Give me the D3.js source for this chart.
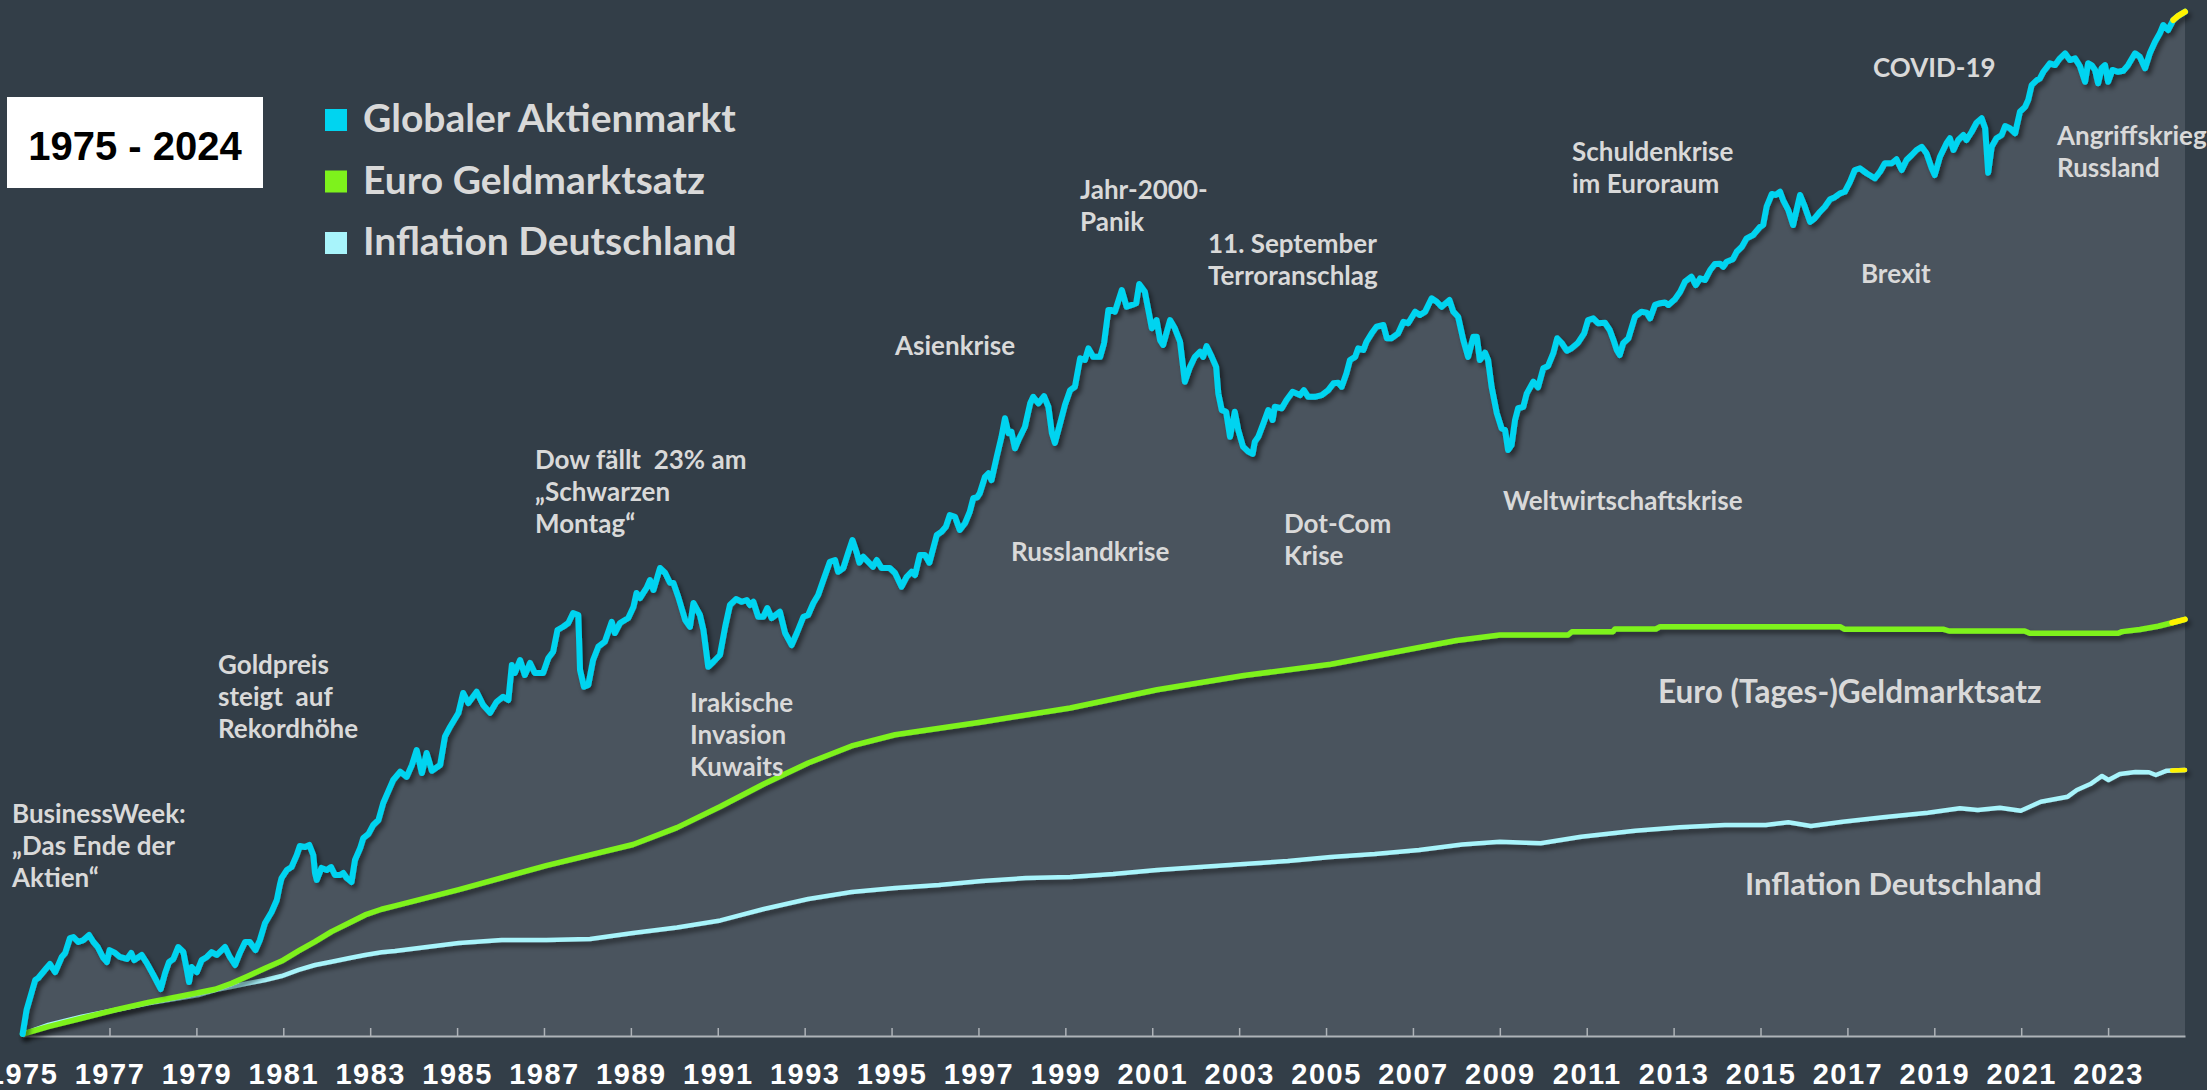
<!DOCTYPE html>
<html>
<head>
<meta charset="utf-8">
<script src="https://cdn.jsdelivr.net/npm/d3@7"></script>
<style>
  html, body { margin: 0; padding: 0; background: #333e48; overflow: hidden; }
  svg { display: block; }
  .note { font-family: Lato, "Noto Sans", sans-serif; font-weight: 700; fill: #d9d9d9; font-size: 26px; white-space: pre; }
  .legend-text { font-family: Lato, "Noto Sans", sans-serif; font-weight: 700; fill: #d9d9d9; font-size: 39px; }
  .tick text { font-family: "Liberation Sans", Arial, sans-serif; font-weight: 700; fill: #fff; font-size: 29px; letter-spacing: 1.5px; }
</style>
</head>
<body>
<svg width="2207" height="1090"></svg>
<script>
// Wert von 1 (1975 = 1), [Jahr, Wert]
const aktien = [[1975.00,1.00],[1975.09,1.10],[1975.29,1.241],[1975.36,1.251],[1975.55,1.302],[1975.63,1.323],[1975.75,1.281],[1975.90,1.361],[1975.98,1.383],[1976.09,1.468],[1976.17,1.474],[1976.28,1.445],[1976.40,1.456],[1976.53,1.486],[1976.63,1.445],[1976.73,1.416],[1976.86,1.355],[1976.94,1.334],[1977.00,1.399],[1977.13,1.383],[1977.24,1.361],[1977.40,1.350],[1977.50,1.383],[1977.57,1.344],[1977.74,1.372],[1977.86,1.328],[1978.01,1.266],[1978.18,1.197],[1978.28,1.276],[1978.37,1.334],[1978.47,1.350],[1978.58,1.416],[1978.70,1.388],[1978.78,1.292],[1978.83,1.231],[1978.89,1.307],[1979.01,1.281],[1979.12,1.344],[1979.24,1.361],[1979.35,1.388],[1979.47,1.372],[1979.66,1.416],[1979.77,1.361],[1979.89,1.318],[1980.00,1.383],[1980.12,1.445],[1980.23,1.445],[1980.36,1.399],[1980.46,1.456],[1980.58,1.559],[1980.73,1.629],[1980.85,1.709],[1980.92,1.815],[1980.96,1.866],[1981.08,1.927],[1981.19,1.950],[1981.31,2.046],[1981.38,2.121],[1981.50,2.113],[1981.60,2.130],[1981.69,2.046],[1981.73,1.904],[1981.77,1.852],[1981.88,1.943],[1982.00,1.927],[1982.10,1.950],[1982.19,1.889],[1982.31,1.889],[1982.38,1.904],[1982.46,1.866],[1982.57,1.837],[1982.65,2.006],[1982.77,2.104],[1982.84,2.190],[1982.96,2.226],[1983.07,2.307],[1983.19,2.354],[1983.30,2.519],[1983.38,2.601],[1983.53,2.762],[1983.69,2.855],[1983.84,2.798],[1983.96,2.933],[1984.07,3.114],[1984.19,2.841],[1984.30,3.077],[1984.42,2.866],[1984.61,2.933],[1984.72,3.284],[1984.84,3.418],[1985.03,3.611],[1985.14,3.912],[1985.26,3.758],[1985.45,3.932],[1985.60,3.728],[1985.76,3.615],[1985.91,3.777],[1986.06,3.854],[1986.18,3.804],[1986.26,4.375],[1986.33,4.238],[1986.45,4.464],[1986.56,4.204],[1986.68,4.411],[1986.79,4.238],[1986.98,4.238],[1987.10,4.500],[1987.21,4.614],[1987.31,5.033],[1987.44,5.099],[1987.56,5.176],[1987.67,5.387],[1987.79,5.344],[1987.83,4.289],[1987.92,4.011],[1988.02,4.039],[1988.13,4.464],[1988.25,4.707],[1988.40,4.802],[1988.56,5.202],[1988.63,4.973],[1988.75,5.176],[1988.94,5.280],[1989.06,5.524],[1989.13,5.836],[1989.21,5.720],[1989.36,5.954],[1989.44,6.147],[1989.52,5.906],[1989.67,6.450],[1989.79,6.322],[1989.90,6.080],[1989.98,6.074],[1990.09,5.749],[1990.25,5.238],[1990.36,5.099],[1990.44,5.607],[1990.59,5.344],[1990.67,5.033],[1990.78,4.345],[1990.90,4.433],[1991.05,4.554],[1991.17,5.099],[1991.28,5.562],[1991.42,5.697],[1991.55,5.635],[1991.67,5.675],[1991.74,5.562],[1991.82,5.635],[1991.93,5.307],[1992.05,5.307],[1992.14,5.496],[1992.24,5.280],[1992.43,5.414],[1992.55,4.973],[1992.70,4.740],[1992.82,4.973],[1992.97,5.307],[1993.08,5.344],[1993.20,5.607],[1993.31,5.789],[1993.43,6.147],[1993.58,6.613],[1993.70,6.659],[1993.77,6.353],[1993.89,6.450],[1994.00,6.849],[1994.10,7.214],[1994.20,6.849],[1994.26,6.587],[1994.35,6.747],[1994.46,6.613],[1994.57,6.482],[1994.66,6.659],[1994.77,6.450],[1994.96,6.450],[1995.08,6.322],[1995.23,5.984],[1995.35,6.228],[1995.46,6.353],[1995.54,6.271],[1995.65,6.794],[1995.77,6.794],[1995.87,6.587],[1996.04,7.360],[1996.15,7.456],[1996.25,7.607],[1996.34,7.973],[1996.46,7.917],[1996.57,7.508],[1996.69,7.714],[1996.80,8.077],[1996.88,8.525],[1996.97,8.559],[1997.03,8.697],[1997.15,9.290],[1997.23,9.421],[1997.30,9.170],[1997.42,10.06],[1997.53,10.90],[1997.61,11.74],[1997.69,11.06],[1997.76,11.12],[1997.84,10.41],[1997.92,10.76],[1998.07,11.35],[1998.19,12.46],[1998.26,12.79],[1998.38,12.46],[1998.51,12.83],[1998.61,12.29],[1998.69,11.06],[1998.76,10.64],[1998.88,11.51],[1998.99,12.38],[1999.11,13.14],[1999.22,13.32],[1999.34,14.92],[1999.45,14.82],[1999.53,15.53],[1999.64,15.01],[1999.80,15.01],[1999.89,15.85],[1999.99,18.10],[2000.07,18.10],[2000.14,17.98],[2000.30,19.61],[2000.41,18.34],[2000.53,18.47],[2000.63,18.60],[2000.70,20.09],[2000.83,19.47],[2000.91,18.10],[2000.99,16.83],[2001.10,17.39],[2001.18,16.05],[2001.25,15.74],[2001.41,17.39],[2001.52,16.83],[2001.64,15.94],[2001.75,13.59],[2001.87,14.42],[2001.98,15.01],[2002.10,15.32],[2002.17,15.01],[2002.25,15.67],[2002.37,15.01],[2002.47,14.42],[2002.52,12.97],[2002.60,12.13],[2002.70,12.05],[2002.79,10.90],[2002.90,12.05],[2002.98,11.20],[2003.09,10.48],[2003.21,10.27],[2003.31,10.18],[2003.36,10.69],[2003.44,10.90],[2003.56,11.51],[2003.67,12.13],[2003.77,11.66],[2003.82,12.29],[2003.98,12.22],[2004.09,12.63],[2004.23,13.05],[2004.40,12.88],[2004.49,13.14],[2004.59,12.79],[2004.74,12.79],[2004.90,12.88],[2005.05,13.14],[2005.17,13.50],[2005.28,13.53],[2005.36,13.32],[2005.47,14.05],[2005.55,14.82],[2005.67,15.01],[2005.74,15.53],[2005.86,15.43],[2005.93,15.94],[2006.05,16.49],[2006.16,16.93],[2006.32,17.05],[2006.40,16.17],[2006.51,16.17],[2006.66,16.49],[2006.78,17.27],[2006.89,17.17],[2007.05,17.98],[2007.16,17.74],[2007.28,17.98],[2007.43,18.97],[2007.55,18.71],[2007.66,18.34],[2007.84,18.84],[2007.93,17.98],[2008.04,17.62],[2008.16,16.05],[2008.27,15.01],[2008.39,16.26],[2008.47,16.26],[2008.54,14.82],[2008.66,15.26],[2008.73,14.82],[2008.81,13.32],[2008.93,11.98],[2009.04,11.28],[2009.12,11.20],[2009.19,10.34],[2009.27,10.55],[2009.35,11.66],[2009.42,12.22],[2009.54,12.29],[2009.62,12.97],[2009.77,13.59],[2009.88,13.29],[2010.00,14.34],[2010.11,14.47],[2010.23,15.23],[2010.32,16.17],[2010.42,15.88],[2010.54,15.38],[2010.65,15.53],[2010.80,15.88],[2010.94,16.49],[2011.03,17.39],[2011.15,17.51],[2011.26,17.17],[2011.42,17.20],[2011.53,16.71],[2011.63,15.94],[2011.69,15.43],[2011.76,15.12],[2011.84,15.85],[2011.96,16.17],[2012.03,16.83],[2012.11,17.62],[2012.26,17.98],[2012.38,17.91],[2012.46,17.51],[2012.57,18.47],[2012.69,18.60],[2012.80,18.66],[2012.88,18.47],[2013.03,18.90],[2013.15,19.47],[2013.26,20.27],[2013.41,20.68],[2013.51,20.00],[2013.61,20.55],[2013.72,20.41],[2013.84,21.24],[2013.95,21.76],[2014.07,21.79],[2014.14,21.52],[2014.22,21.96],[2014.36,22.17],[2014.45,22.85],[2014.57,23.31],[2014.68,24.11],[2014.83,24.43],[2014.99,25.25],[2015.06,25.43],[2015.14,27.36],[2015.26,28.79],[2015.35,28.68],[2015.45,29.05],[2015.52,28.10],[2015.64,27.00],[2015.75,25.43],[2015.83,27.00],[2015.91,28.68],[2016.02,27.36],[2016.14,25.76],[2016.25,26.13],[2016.37,26.82],[2016.48,27.36],[2016.60,28.19],[2016.71,28.42],[2016.83,28.87],[2016.94,29.05],[2017.06,30.24],[2017.17,31.69],[2017.29,31.91],[2017.44,31.28],[2017.63,30.66],[2017.75,31.47],[2017.86,32.56],[2018.02,32.56],[2018.13,33.08],[2018.25,31.69],[2018.36,32.98],[2018.48,33.65],[2018.59,34.33],[2018.71,34.77],[2018.82,33.88],[2018.94,31.91],[2019.01,31.06],[2019.13,33.41],[2019.28,35.27],[2019.36,35.98],[2019.44,34.33],[2019.55,35.73],[2019.67,36.45],[2019.74,35.73],[2019.86,36.93],[2019.97,38.28],[2020.09,38.97],[2020.17,37.45],[2020.24,31.35],[2020.32,34.77],[2020.43,35.98],[2020.55,36.45],[2020.63,37.79],[2020.74,37.45],[2020.86,36.71],[2020.97,40.00],[2021.09,40.80],[2021.16,41.92],[2021.24,44.51],[2021.36,45.41],[2021.43,45.73],[2021.51,46.94],[2021.66,48.56],[2021.78,48.22],[2021.89,49.54],[2022.01,50.54],[2022.12,49.20],[2022.24,49.54],[2022.35,48.03],[2022.47,45.10],[2022.54,48.56],[2022.62,48.22],[2022.70,47.28],[2022.77,44.84],[2022.85,47.61],[2022.93,48.22],[2023.00,45.10],[2023.10,47.28],[2023.23,46.94],[2023.35,47.13],[2023.46,48.22],[2023.62,50.54],[2023.73,49.85],[2023.85,47.61],[2023.96,50.54],[2024.08,52.92],[2024.19,54.74],[2024.27,56.60],[2024.38,55.48],[2024.50,57.74],[2024.61,58.67],[2024.77,59.68]];

const geldmarkt = [[1975.00,1.00],[1975.59,1.030],[1976.36,1.065],[1977.13,1.101],[1977.89,1.135],[1978.66,1.164],[1979.43,1.196],[1979.81,1.225],[1980.19,1.261],[1980.58,1.301],[1980.96,1.339],[1981.35,1.394],[1981.73,1.447],[1982.11,1.506],[1982.50,1.557],[1982.88,1.610],[1983.26,1.647],[1983.57,1.669],[1985.04,1.782],[1987.05,1.961],[1989.05,2.134],[1990.06,2.283],[1991.06,2.484],[1992.06,2.718],[1993.08,2.956],[1994.08,3.165],[1995.08,3.310],[1997.08,3.483],[1999.11,3.684],[2001.11,3.963],[2003.11,4.195],[2005.11,4.388],[2007.14,4.692],[2008.00,4.826],[2009.00,4.933],[2010.57,4.933],[2010.66,4.998],[2011.60,4.998],[2011.65,5.053],[2012.59,5.053],[2012.69,5.100],[2016.83,5.100],[2016.94,5.047],[2019.22,5.047],[2019.34,5.013],[2021.08,5.013],[2021.20,4.967],[2023.23,4.967],[2023.32,5.000],[2023.73,5.043],[2024.15,5.109],[2024.47,5.181],[2024.77,5.253]];

const inflation = [[1975.00,1.00],[1975.59,1.037],[1976.36,1.072],[1977.13,1.101],[1977.89,1.131],[1978.66,1.156],[1979.04,1.169],[1979.43,1.192],[1979.81,1.208],[1980.19,1.225],[1980.58,1.241],[1980.96,1.261],[1981.35,1.292],[1981.73,1.318],[1982.11,1.335],[1982.50,1.354],[1982.88,1.372],[1983.26,1.387],[1983.57,1.394],[1985.04,1.439],[1986.03,1.456],[1987.05,1.456],[1988.06,1.462],[1989.05,1.498],[1990.06,1.531],[1991.06,1.575],[1992.06,1.649],[1993.08,1.716],[1994.08,1.765],[1995.08,1.793],[1996.09,1.815],[1997.08,1.844],[1998.09,1.866],[1999.11,1.874],[2000.10,1.896],[2001.11,1.927],[2002.10,1.950],[2003.11,1.974],[2004.12,1.998],[2005.11,2.030],[2006.12,2.054],[2007.14,2.088],[2008.13,2.134],[2009.00,2.158],[2009.94,2.144],[2010.87,2.202],[2012.11,2.255],[2013.14,2.286],[2014.18,2.307],[2015.12,2.307],[2015.64,2.332],[2016.16,2.298],[2016.89,2.338],[2017.82,2.379],[2018.85,2.423],[2019.59,2.466],[2020.00,2.450],[2020.51,2.472],[2020.99,2.443],[2021.45,2.532],[2022.07,2.584],[2022.28,2.654],[2022.59,2.718],[2022.86,2.807],[2023.01,2.762],[2023.27,2.829],[2023.63,2.852],[2023.94,2.849],[2024.10,2.818],[2024.35,2.867],[2024.47,2.869],[2024.77,2.875]];

const tickYears = d3.range(1975, 2024, 2);
const legendNames = ["Globaler Aktienmarkt", "Euro Geldmarktsatz", "Inflation Deutschland"];
const zeitraum = "1975 - 2024";
const highlightFrom = 2024.47;

// Annotationen (Text + Lage im Bild)
const notes = [
  { lines: ["BusinessWeek:", "„Das Ende der", "Aktien“"], x: 12, y: 823 },
  { lines: ["Goldpreis", "steigt  auf", "Rekordhöhe"], x: 218, y: 674 },
  { lines: ["Dow fällt  23% am", "„Schwarzen", "Montag“"], x: 535, y: 469 },
  { lines: ["Irakische", "Invasion", "Kuwaits"], x: 690, y: 712 },
  { lines: ["Asienkrise"], x: 895, y: 355 },
  { lines: ["Russlandkrise"], x: 1011, y: 561 },
  { lines: ["Jahr-2000-", "Panik"], x: 1080, y: 199 },
  { lines: ["11. September", "Terroranschlag"], x: 1208, y: 253 },
  { lines: ["Dot-Com", "Krise"], x: 1284, y: 533 },
  { lines: ["Weltwirtschaftskrise"], x: 1503, y: 510 },
  { lines: ["Schuldenkrise", "im Euroraum"], x: 1572, y: 161 },
  { lines: ["Brexit"], x: 1861, y: 283 },
  { lines: ["COVID-19"], x: 1873, y: 77 },
  { lines: ["Angriffskrieg", "Russland"], x: 2057, y: 145 }
];

const colors = { aktien: "#00d4f0", geld: "#7ef21c", infl: "#a8f4fb", hi: "#fff200" };

const svg = d3.select("svg"),
    width = +svg.attr("width"),
    height = +svg.attr("height");

const baseY = 1034;
const x = d3.scaleLinear().domain([1975, 2024.77]).range([22.6, 2185]);
const y = d3.scaleLog().domain([1, 100]).range([baseY, baseY - 250 * Math.log(100)]);

// Schatten fuer die Linien
svg.append("defs").append("filter")
    .attr("id", "shadow")
    .attr("filterUnits", "userSpaceOnUse")
    .attr("x", 0).attr("y", 0).attr("width", width).attr("height", height)
  .append("feDropShadow")
    .attr("dx", 3).attr("dy", 4).attr("stdDeviation", 2.5)
    .attr("flood-color", "#000").attr("flood-opacity", 0.5);

// Flaeche unter der Aktienkurve
svg.append("path")
    .datum(aktien)
    .attr("fill", "#4a545e")
    .attr("d", d3.area().x(d => x(d[0])).y0(1036).y1(d => y(d[1])));

// Achse
const axis = svg.append("g")
    .attr("transform", "translate(0,1036)")
    .call(d3.axisBottom(x)
        .tickValues(tickYears)
        .tickFormat(d3.format("d"))
        .tickSizeInner(-8)
        .tickSizeOuter(0)
        .tickPadding(27));
axis.select(".domain").attr("stroke", "#aeb3b8").attr("stroke-width", 2);
axis.selectAll(".tick line").attr("stroke", "#aeb3b8").attr("stroke-width", 1.5);
axis.selectAll(".tick").filter(d => d === 1975).select("line").remove();

const line = d3.line().x(d => x(d[0])).y(d => y(d[1]));

function drawSeries(data, color, w) {
  svg.append("path")
      .datum(data)
      .attr("fill", "none")
      .attr("stroke", color)
      .attr("stroke-width", w)
      .attr("stroke-linejoin", "round")
      .attr("stroke-linecap", "round")
      .attr("filter", "url(#shadow)")
      .attr("d", line);
  // letzter Abschnitt gelb
  svg.append("path")
      .datum(data.filter(d => d[0] >= highlightFrom))
      .attr("fill", "none")
      .attr("stroke", colors.hi)
      .attr("stroke-width", w)
      .attr("stroke-linecap", "round")
      .attr("d", line);
}

drawSeries(inflation, colors.infl, 4.5);
drawSeries(geldmarkt, colors.geld, 5.5);
drawSeries(aktien, colors.aktien, 6);

// Serienbeschriftungen
svg.append("text").attr("class", "note").attr("x", 1658).attr("y", 703)
    .style("font-size", "31.5px").text("Euro (Tages-)Geldmarktsatz");
svg.append("text").attr("class", "note").attr("x", 1745).attr("y", 895)
    .style("font-size", "31px").text("Inflation Deutschland");

// Ereignisse
notes.forEach(n => {
  const t = svg.append("text").attr("class", "note").attr("x", n.x).attr("y", n.y);
  n.lines.forEach((l, i) => {
    t.append("tspan").attr("x", n.x).attr("dy", i === 0 ? 0 : 32).text(l);
  });
});

// Zeitraum-Box
svg.append("rect").attr("x", 7).attr("y", 97).attr("width", 256).attr("height", 91).attr("fill", "#fff");
svg.append("text")
    .attr("x", 135).attr("y", 160)
    .attr("text-anchor", "middle")
    .style("font-family", "'Liberation Sans', Arial, sans-serif")
    .style("font-weight", 700)
    .style("font-size", "40px")
    .attr("fill", "#000")
    .text(zeitraum);

// Legende
const legColors = [colors.aktien, colors.geld, colors.infl];
const leg = svg.append("g");
legendNames.forEach((name, i) => {
  leg.append("rect")
      .attr("x", 325).attr("y", 109 + i * 61.5)
      .attr("width", 22).attr("height", 22)
      .attr("fill", legColors[i]);
  leg.append("text")
      .attr("class", "legend-text")
      .attr("x", 363).attr("y", 132 + i * 61.5)
      .text(name);
});
</script>
</body>
</html>
